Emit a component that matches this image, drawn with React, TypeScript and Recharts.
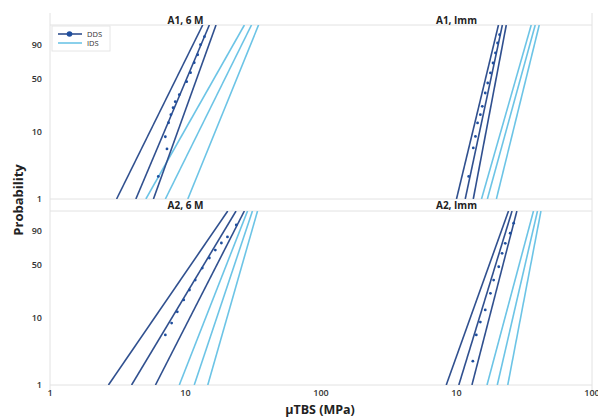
import React from 'react';
import { ComposedChart, Line, Scatter, XAxis, YAxis } from 'recharts';

const FONT = '"Open Sans", "Noto Sans", sans-serif';
const DDS_COLOR = '#30508F';
const DDS_POINT = '#1F4E9E';
const IDS_COLOR = '#6CC4E6';
const FRAME = '#E2E2E2';

const probTicks = [1, 10, 50, 90];
const probRange = [1, 99];
const xDomain = [1, 100];
const xTicksLeft = [1, 10, 100];
const xTicksRight = [10, 100];
const panelTitles = ['A1, 6 M', 'A1, Imm', 'A2, 6 M', 'A2, Imm'];
const legendLabels = ['DDS', 'IDS'];

// Lines: uTBS (MPa) at 1 % and at 99 % probability
const a1m6DdsAt1 = [3.1, 4.3, 5.8];
const a1m6DdsAt99 = [13.4, 15.0, 16.8];
const a1m6IdsAt1 = [5.1, 7.1, 10.4];
const a1m6IdsAt99 = [27.2, 30.7, 34.6];

const a1ImmDdsAt1 = [10.0, 11.6, 13.3];
const a1ImmDdsAt99 = [20.4, 21.8, 23.3];
const a1ImmIdsAt1 = [15.3, 16.9, 19.7];
const a1ImmIdsAt99 = [35.6, 38.1, 40.8];

const a2m6DdsAt1 = [2.7, 4.0, 6.0];
const a2m6DdsAt99 = [20.5, 23.6, 27.2];
const a2m6IdsAt1 = [9.0, 11.6, 14.6];
const a2m6IdsAt99 = [28.7, 31.2, 34.0];

const a2ImmDdsAt1 = [8.4, 10.4, 13.0];
const a2ImmDdsAt99 = [24.2, 25.7, 27.9];
const a2ImmIdsAt1 = [16.8, 20.0, 23.9];
const a2ImmIdsAt99 = [37.0, 39.6, 42.0];

// DDS data points (MPa, probability %)
const a1m6PtsX = [6.3, 7.3, 7.1, 7.5, 7.8, 8.1, 8.4, 9.0, 10.2, 10.9, 11.6, 12.3, 12.9, 13.8];
const a1m6PtsP = [2.2, 5.7, 8.6, 13.7, 17.8, 22.1, 26.6, 32.7, 46.5, 57.6, 70.5, 80.1, 90.0, 95.3];
const a1ImmPtsX = [12.3, 13.3, 13.8, 14.3, 15.0, 15.5, 16.3, 17.0, 17.8, 18.6, 19.4, 20.1, 20.8];
const a1ImmPtsP = [2.2, 5.9, 8.7, 13.6, 17.8, 23.1, 34.3, 45.0, 57.3, 70.1, 82.1, 91.3, 96.2];
const a2m6PtsX = [7.1, 7.9, 8.7, 9.7, 10.7, 11.8, 13.3, 15.0, 16.6, 18.4, 20.4, 23.7];
const a2m6PtsP = [5.7, 8.5, 12.4, 18.2, 24.8, 33.3, 46.1, 58.5, 68.8, 77.5, 84.2, 94.0];
const a2ImmPtsX = [13.2, 14.0, 15.0, 16.3, 17.8, 18.8, 20.5, 21.7, 22.9, 24.9, 26.4];
const a2ImmPtsP = [2.3, 5.7, 8.8, 13.2, 22.4, 33.3, 47.6, 64.6, 77.1, 87.8, 95.0];

const W = (p: number) => Math.log(-Math.log(1 - p / 100));
const fromW = (w: number) => (1 - Math.exp(-Math.exp(w))) * 100;

const buildLines = (at1: number[], at99: number[]) =>
  at1.map((v, i) => [
    { x: v, y: W(probRange[0]) },
    { x: at99[i], y: W(probRange[1]) },
  ]);

const buildPts = (xs: number[], ps: number[]) => xs.map((x, i) => ({ x, y: W(ps[i]) }));

const Dot = (props: any) => <circle cx={props.cx} cy={props.cy} r={1.4} fill={DDS_POINT} />;

type PanelProps = {
  left: number;
  top: number;
  width: number;
  height: number;
  margin: { top: number; right: number; bottom: number; left: number };
  showY: boolean;
  showX: boolean;
  xTicks: number[];
  dds: { x: number; y: number }[][];
  ids: { x: number; y: number }[][];
  pts: { x: number; y: number }[];
};

const tickStyle = { fill: '#333', fontSize: 9, fontWeight: 600, fontFamily: FONT };

function Panel(p: PanelProps) {
  return (
    <div style={{ position: 'absolute', left: p.left, top: p.top }}>
      <ComposedChart width={p.width} height={p.height} margin={p.margin}>
        <XAxis
          dataKey="x"
          type="number"
          scale="log"
          domain={xDomain}
          ticks={p.xTicks}
          hide={!p.showX}
          height={30}
          axisLine={false}
          tickLine={false}
          tickSize={0}
          tickMargin={5}
          tick={tickStyle}
          interval={0}
          allowDataOverflow
        />
        <YAxis
          dataKey="y"
          type="number"
          domain={[W(probRange[0]), W(probRange[1])]}
          ticks={probTicks.map(W)}
          tickFormatter={(v: number) => String(Math.round(fromW(v)))}
          hide={!p.showY}
          width={50}
          axisLine={false}
          tickLine={false}
          tickSize={0}
          tickMargin={8}
          tick={tickStyle}
          interval={0}
          allowDataOverflow
        />
        {p.ids.map((d, i) => (
          <Line
            key={'i' + i}
            data={d}
            dataKey="y"
            stroke={IDS_COLOR}
            strokeWidth={1.6}
            dot={false}
            activeDot={false}
            isAnimationActive={false}
          />
        ))}
        {p.dds.map((d, i) => (
          <Line
            key={'d' + i}
            data={d}
            dataKey="y"
            stroke={DDS_COLOR}
            strokeWidth={1.6}
            dot={false}
            activeDot={false}
            isAnimationActive={false}
          />
        ))}
        <Scatter data={p.pts} dataKey="y" shape={<Dot />} isAnimationActive={false} />
      </ComposedChart>
    </div>
  );
}

export default function App() {
  const X0 = 50;
  const XM = 321;
  const X1 = 592;
  const topY0 = 25;
  const topY1 = 199;
  const botY0 = 211;
  const botY1 = 385;
  return (
    <div style={{ position: 'absolute', left: 0, top: 0, width: 598, height: 418, background: '#fff', fontFamily: FONT }}>
      <svg width={598} height={418} style={{ position: 'absolute', left: 0, top: 0 }}>
        <line x1={X0} y1={13} x2={X0} y2={390} stroke={FRAME} strokeWidth={1} />
        <line x1={X1} y1={13} x2={X1} y2={390} stroke={FRAME} strokeWidth={1} />
        {[topY0, topY1, botY0, botY1].map((y) => (
          <line key={y} x1={X0} y1={y} x2={X1} y2={y} stroke={FRAME} strokeWidth={1} />
        ))}
      </svg>
      <Panel
        left={0}
        top={0}
        width={340}
        height={215}
        margin={{ top: topY0, right: 340 - XM, bottom: 215 - topY1, left: 0 }}
        showY
        showX={false}
        xTicks={xTicksLeft}
        dds={buildLines(a1m6DdsAt1, a1m6DdsAt99)}
        ids={buildLines(a1m6IdsAt1, a1m6IdsAt99)}
        pts={buildPts(a1m6PtsX, a1m6PtsP)}
      />
      <Panel
        left={XM}
        top={0}
        width={598 - XM}
        height={215}
        margin={{ top: topY0, right: 598 - X1, bottom: 215 - topY1, left: 0 }}
        showY={false}
        showX={false}
        xTicks={xTicksRight}
        dds={buildLines(a1ImmDdsAt1, a1ImmDdsAt99)}
        ids={buildLines(a1ImmIdsAt1, a1ImmIdsAt99)}
        pts={buildPts(a1ImmPtsX, a1ImmPtsP)}
      />
      <Panel
        left={0}
        top={botY0 - 10}
        width={340}
        height={botY1 - botY0 + 40}
        margin={{ top: 10, right: 340 - XM, bottom: 0, left: 0 }}
        showY
        showX
        xTicks={xTicksLeft}
        dds={buildLines(a2m6DdsAt1, a2m6DdsAt99)}
        ids={buildLines(a2m6IdsAt1, a2m6IdsAt99)}
        pts={buildPts(a2m6PtsX, a2m6PtsP)}
      />
      <Panel
        left={XM}
        top={botY0 - 10}
        width={598 - XM}
        height={botY1 - botY0 + 40}
        margin={{ top: 10, right: 598 - X1, bottom: 0, left: 0 }}
        showY={false}
        showX
        xTicks={xTicksRight}
        dds={buildLines(a2ImmDdsAt1, a2ImmDdsAt99)}
        ids={buildLines(a2ImmIdsAt1, a2ImmIdsAt99)}
        pts={buildPts(a2ImmPtsX, a2ImmPtsP)}
      />
      <svg width={598} height={418} style={{ position: 'absolute', left: 0, top: 0, pointerEvents: 'none' }}>
        <g fontFamily={FONT} fontWeight={700} fill="#222" fontSize={10} textAnchor="middle">
          <text x={(X0 + XM) / 2} y={24}>{panelTitles[0]}</text>
          <text x={(XM + X1) / 2} y={24}>{panelTitles[1]}</text>
          <text x={(X0 + XM) / 2} y={209}>{panelTitles[2]}</text>
          <text x={(XM + X1) / 2} y={209}>{panelTitles[3]}</text>
        </g>
        <text x={320} y={414} textAnchor="middle" fontFamily={FONT} fontWeight={700} fontSize={12.5} fill="#222">
          μTBS (MPa)
        </text>
        <text
          x={0}
          y={0}
          transform="translate(23,200) rotate(-90)"
          textAnchor="middle"
          fontFamily={FONT}
          fontWeight={700}
          fontSize={13}
          fill="#222"
        >
          Probability
        </text>
        <rect x={52} y={26} width={58} height={25} fill="#fff" stroke="#E6E6E6" strokeWidth={1} />
        <line x1={58} y1={34} x2={82} y2={34} stroke={DDS_COLOR} strokeWidth={1.6} />
        <circle cx={69.5} cy={34} r={2.8} fill={DDS_POINT} />
        <text x={87} y={34} dominantBaseline="central" fontFamily={FONT} fontSize={7.5} fill="#333">{legendLabels[0]}</text>
        <line x1={58} y1={43} x2={82} y2={43} stroke={IDS_COLOR} strokeWidth={1.6} />
        <text x={87} y={43} dominantBaseline="central" fontFamily={FONT} fontSize={7.5} fill="#333">{legendLabels[1]}</text>
      </svg>
    </div>
  );
}
